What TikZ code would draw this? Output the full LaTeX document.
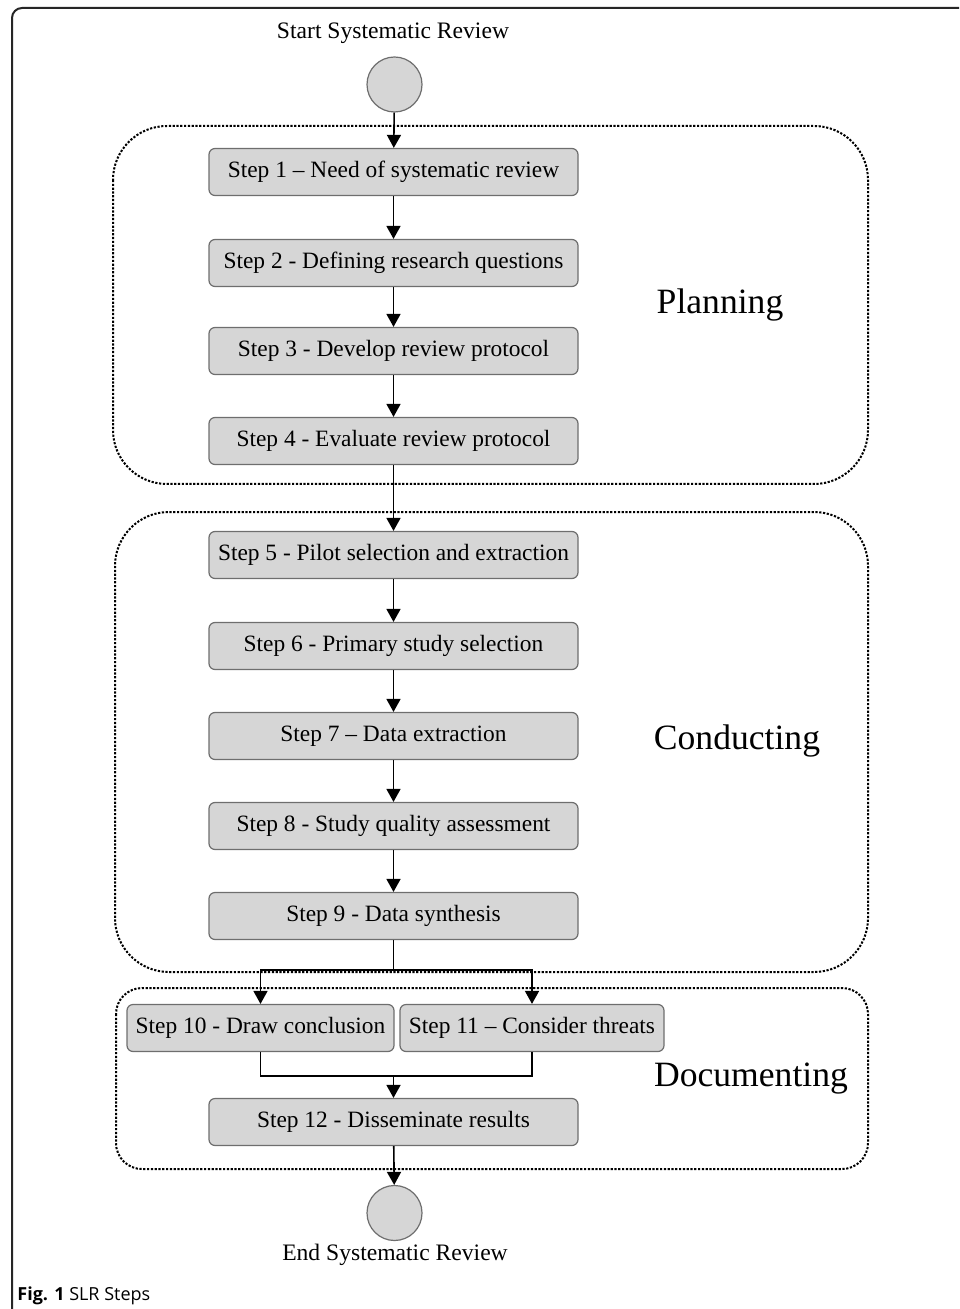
\documentclass[tikz,border=0pt]{standalone}
\usepackage{fontspec}
\setmainfont{Liberation Serif}
\newfontfamily\capfont{Open Sans}
\usetikzlibrary{arrows.meta}
\definecolor{boxfill}{HTML}{D6D6D6}
\definecolor{boxline}{HTML}{6E6E6E}
\begin{document}
\begin{tikzpicture}[x=0.5pt,y=-0.5pt,
  stepbox/.style={draw=boxline, line width=0.6pt, fill=boxfill, rounded corners=3pt,
    minimum height=23.5pt, inner sep=0pt, font=\fontsize{11.7}{13}\selectfont},
  widebox/.style={stepbox, minimum width=184.5pt},
  termcircle/.style={circle, draw=boxline, line width=0.6pt, fill=boxfill, minimum size=27.5pt, inner sep=0pt},
  phase/.style={draw=black, line width=1pt, dash pattern=on 1.1pt off 0.8pt, rounded corners=#1},
  phaselabel/.style={font=\fontsize{17.8}{20}\selectfont},
  lbl/.style={font=\fontsize{11.8}{13}\selectfont},
  conn/.style={draw=black, line width=0.8pt},
  arr/.style={conn, -{Triangle[width=7pt,length=6.5pt]}}
]
\useasboundingbox (0,0) rectangle (959,1309);
% outer frame
\draw[line width=1pt, draw=black!85, rounded corners=5pt] (959,8) -- (12,8) -- (12,1309);

% phase containers
\draw[phase=27pt] (113,126) rectangle (868,484);
\draw[phase=27pt] (115,512) rectangle (868,972);
\draw[phase=13pt] (116,988) rectangle (868,1169);

\node[phaselabel] (plan) at (720,305) {Planning};
\node[phaselabel] (cond) at (737,741) {Conducting};
\node[phaselabel] (docu) at (751,1079) {Documenting};

% start / end
\node[lbl] (startlbl) at (393,33) {Start Systematic Review};
\node[termcircle] (start) at (394.5,84.5) {};
\node[termcircle] (end) at (394.5,1213) {};
\node[lbl] (endlbl) at (395,1255) {End Systematic Review};

% steps
\node[widebox] (s1) at (393.5,172) {Step 1 -- Need of systematic review};
\node[widebox] (s2) at (393.5,263) {Step 2 - Defining research questions};
\node[widebox] (s3) at (393.5,351) {Step 3 - Develop review protocol};
\node[widebox] (s4) at (393.5,441) {Step 4 - Evaluate review protocol};
\node[widebox] (s5) at (393.5,555) {Step 5 - Pilot selection and extraction};
\node[widebox] (s6) at (393.5,646) {Step 6 - Primary study selection};
\node[widebox] (s7) at (393.5,736) {Step 7 -- Data extraction};
\node[widebox] (s8) at (393.5,826) {Step 8 - Study quality assessment};
\node[widebox] (s9) at (393.5,916) {Step 9 - Data synthesis};
\node[stepbox, minimum width=133.5pt] (s10) at (260.5,1028) {Step 10 - Draw conclusion};
\node[stepbox, minimum width=132pt] (s11) at (532,1028) {Step 11 -- Consider threats};
\node[widebox] (s12) at (393.5,1122) {Step 12 - Disseminate results};

% connectors
\draw[arr] (start) -- (s1);
\draw[arr] (s1) -- (s2);
\draw[arr] (s2) -- (s3);
\draw[arr] (s3) -- (s4);
\draw[arr] (s4) -- (s5);
\draw[arr] (s5) -- (s6);
\draw[arr] (s6) -- (s7);
\draw[arr] (s7) -- (s8);
\draw[arr] (s8) -- (s9);
\coordinate (split) at (393.5,970);
\draw[conn] (s9.south) -- (split);
\draw[arr] (split) -| (s10.north);
\draw[arr] (split) -| (s11.north);
\coordinate (join) at (393.5,1076);
\draw[conn] (s10.south) |- (join);
\draw[conn] (s11.south) |- (join);
\draw[arr] (join) -- (s12.north);
\draw[arr] (s12) -- (end);

% caption
\node[anchor=west, inner sep=0pt, font=\capfont\fontsize{9}{10}\selectfont] (cap) at (17,1296) {\textbf{Fig. 1} SLR Steps};
\end{tikzpicture}
\end{document}
